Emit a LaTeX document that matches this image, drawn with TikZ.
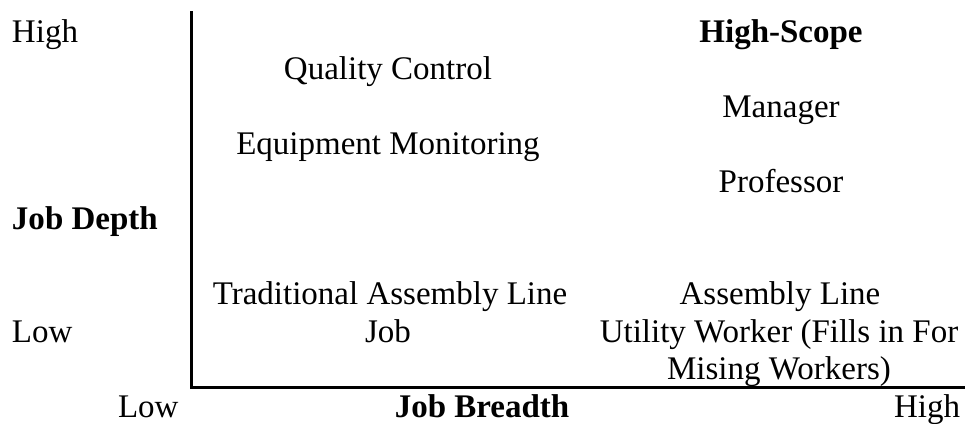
\documentclass[tikz,border=0pt]{standalone}
\usepackage{fontspec}
\setmainfont{Liberation Serif}
\begin{document}
\begin{tikzpicture}[x=1pt,y=-1pt,
  lbl/.style={inner sep=0pt,outer sep=0pt,font=\fontsize{33}{37.5}\selectfont},
  bl/.style={lbl,font=\fontsize{33}{37.5}\selectfont\bfseries},
  axis/.style={line width=3pt,line cap=rect}]
\useasboundingbox (0,0) rectangle (965,423);
\coordinate (top) at (191,12);
\coordinate (corner) at (191,387);
\coordinate (right) at (965,387);
\draw[axis] (top) -- (corner) -- (right);
% left axis labels
\node[lbl,anchor=base west] (yhigh) at (12,42) {High};
\node[bl,anchor=base west] (ydepth) at (12,229.5) {Job Depth};
\node[lbl,anchor=base west] (ylow) at (12,342) {Low};
% bottom axis labels
\node[lbl,anchor=base west] (xlow) at (118,417) {Low};
\node[bl,anchor=base] (xbreadth) at (482,417) {Job Breadth};
\node[lbl,anchor=base east] (xhigh) at (960,417) {High};
% left column
\node[lbl,anchor=base] (qc) at (388,79.5) {Quality Control};
\node[lbl,anchor=base] (em) at (388,154.5) {Equipment Monitoring};
\node[lbl,anchor=base] (tal1) at (390,304.5) {Traditional Assembly Line};
\node[lbl,anchor=base] (tal2) at (388,342) {Job};
% right column
\node[bl,anchor=base] (hs) at (781,42) {High-Scope};
\node[lbl,anchor=base] (mgr) at (781,117) {Manager};
\node[lbl,anchor=base] (prof) at (781,192) {Professor};
\node[lbl,anchor=base] (alu1) at (780,304.5) {Assembly Line};
\node[lbl,anchor=base] (alu2) at (779,342) {Utility Worker (Fills in For};
\node[lbl,anchor=base] (alu3) at (779,379.5) {Mising Workers)};
\end{tikzpicture}
\end{document}
